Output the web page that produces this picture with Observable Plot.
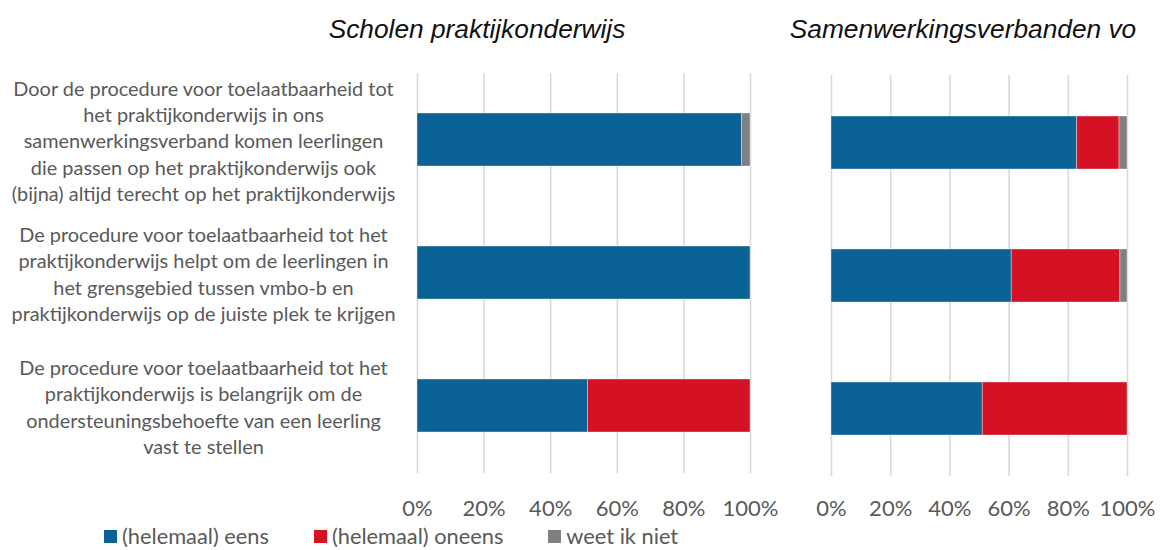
<!DOCTYPE html>
<html>
<head>
<meta charset="utf-8">
<script src="https://cdn.jsdelivr.net/npm/d3@7"></script>
<script src="https://cdn.jsdelivr.net/npm/@observablehq/plot@0.6"></script>
<style>
  html, body { margin: 0; padding: 0; background: #fff; }
  #wrap { position: relative; width: 1163px; height: 550px; overflow: hidden; background: #fff; }
  .title { position: absolute; top: 16px; font-family: "Liberation Sans", Arial, sans-serif; font-style: italic; font-size: 26.3px; line-height: 26px; color: #111; white-space: nowrap; transform: translateX(-50%); }
  .panel { position: absolute; top: 0; }
  #legend { position: absolute; top: 525px; left: 104px; display: flex; font-family: Lato, "Open Sans", sans-serif; font-size: 21.8px; line-height: 22px; color: #595959; }
  #legend .item { display: flex; align-items: center; margin-right: 45px; white-space: nowrap; }
  #legend .sw { width: 13px; height: 13px; margin-right: 5px; }
</style>
</head>
<body>
<div id="wrap"></div>
<script>
// ---- data ----
const statements = [
  "Door de procedure voor toelaatbaarheid tot\nhet praktijkonderwijs in ons\nsamenwerkingsverband komen leerlingen\ndie passen op het praktijkonderwijs ook\n(bijna) altijd terecht op het praktijkonderwijs",
  "De procedure voor toelaatbaarheid tot het\npraktijkonderwijs helpt om de leerlingen in\nhet grensgebied tussen vmbo-b en\npraktijkonderwijs op de juiste plek te krijgen",
  "De procedure voor toelaatbaarheid tot het\npraktijkonderwijs is belangrijk om de\nondersteuningsbehoefte van een leerling\nvast te stellen"
];
const seriesNames = ["(helemaal) eens", "(helemaal) oneens", "weet ik niet"];
const seriesColors = ["#0a6394", "#d51124", "#808080"];
const panelTitles = ["Scholen praktijkonderwijs", "Samenwerkingsverbanden vo"];

// Scholen praktijkonderwijs (percent)
const pEens     = [97.5, 100, 51.2];
const pOneens   = [0,    0,   48.8];
const pWeetNiet = [2.5,  0,   0];

// Samenwerkingsverbanden vo (percent)
const sEens     = [83.0, 60.9, 51.1];
const sOneens   = [14.3, 36.7, 48.9];
const sWeetNiet = [2.7,  2.4,  0];

const xTicks = [0, 20, 40, 60, 80, 100];

function toRows(eens, oneens, weet) {
  const rows = [];
  statements.forEach((s, i) => {
    [eens, oneens, weet].forEach((arr, k) => {
      rows.push({statement: s, series: seriesNames[k], value: arr[i]});
    });
  });
  return rows;
}

const commonStyle = {fontFamily: "Lato, 'Open Sans', sans-serif", fontSize: "22px", color: "#595959", background: "transparent", overflow: "visible"};

function panel(rows, opts) {
  const marks = [
    Plot.gridX(xTicks, {stroke: "#d9d9d9", strokeOpacity: 1, strokeWidth: 1.6}),
    Plot.barX(rows, Plot.stackX({
      y: "statement", x: "value", fill: "series",
      order: seriesNames,
      stroke: "#ffffff", strokeOpacity: 0.45, strokeWidth: 0.8
    })),
    Plot.axisX(xTicks, {tickSize: 0, tickPadding: opts.tickPadding, tickFormat: d => d + "%", fontSize: 22, label: null})
  ];
  if (opts.labels) {
    marks.push(Plot.text(statements, {
      y: d => d, text: d => d, frameAnchor: "left", dx: -214,
      textAnchor: "middle", lineAnchor: "middle", lineHeight: 1.33,
      fontSize: 19.9, fill: "#595959"
    }));
  }
  return Plot.plot({
    width: opts.width, height: 520,
    marginLeft: opts.marginLeft, marginRight: opts.marginRight,
    marginTop: opts.marginTop, marginBottom: opts.marginBottom,
    style: commonStyle,
    x: {domain: [0, 100], axis: null},
    y: {domain: statements, axis: null, paddingInner: 0.6, paddingOuter: 0.3},
    color: {domain: seriesNames, range: seriesColors},
    marks
  });
}

const wrap = document.getElementById("wrap");

const left = panel(toRows(pEens, pOneens, pWeetNiet), {
  width: 790, marginLeft: 417, marginRight: 40, marginTop: 73, marginBottom: 47, tickPadding: 27, labels: true
});
const leftDiv = document.createElement("div");
leftDiv.className = "panel"; leftDiv.style.left = "0px";
leftDiv.appendChild(left); wrap.appendChild(leftDiv);

const right = panel(toRows(sEens, sOneens, sWeetNiet), {
  width: 373, marginLeft: 41, marginRight: 36, marginTop: 75, marginBottom: 44, tickPadding: 24, labels: false
});
const rightDiv = document.createElement("div");
rightDiv.className = "panel"; rightDiv.style.left = "790px";
rightDiv.appendChild(right); wrap.appendChild(rightDiv);

// titles
[[panelTitles[0], 477], [panelTitles[1], 963]].forEach(([t, cx]) => {
  const d = document.createElement("div");
  d.className = "title"; d.textContent = t; d.style.left = cx + "px";
  wrap.appendChild(d);
});

// legend
const leg = document.createElement("div");
leg.id = "legend";
seriesNames.forEach((n, i) => {
  const it = document.createElement("div"); it.className = "item";
  const sw = document.createElement("div"); sw.className = "sw"; sw.style.background = seriesColors[i];
  const tx = document.createElement("span"); tx.textContent = n;
  it.appendChild(sw); it.appendChild(tx); leg.appendChild(it);
});
wrap.appendChild(leg);
</script>
</body>
</html>
